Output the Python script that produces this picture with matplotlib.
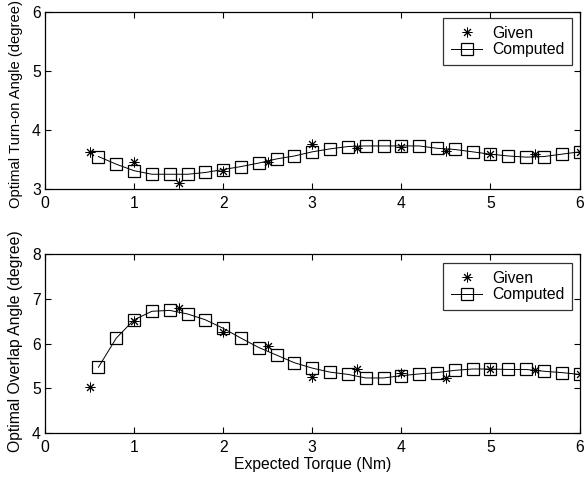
import numpy as np
import matplotlib
matplotlib.use("Agg")
import matplotlib.pyplot as plt

plt.rcParams['font.family'] = ['Liberation Sans', 'DejaVu Sans']

# Expected torque (Nm) for the tabulated ("given") optimum angles
given_torque = [0.5, 1.0, 1.5, 2.0, 2.5, 3.0, 3.5, 4.0, 4.5, 5.0, 5.5, 6.0]
given_turn_on = [3.62, 3.45, 3.11, 3.31, 3.46, 3.77, 3.69, 3.72, 3.65, 3.59, 3.60, 3.63]
given_overlap = [5.02, 6.50, 6.80, 6.26, 5.95, 5.25, 5.44, 5.33, 5.22, 5.44, 5.40, 5.31]

# Torque grid for the computed optimum angles
computed_torque = [0.6, 0.8, 1.0, 1.2, 1.4, 1.6, 1.8, 2.0, 2.2, 2.4, 2.6, 2.8,
                   3.0, 3.2, 3.4, 3.6, 3.8, 4.0, 4.2, 4.4, 4.6, 4.8, 5.0, 5.2,
                   5.4, 5.6, 5.8, 6.0]
computed_turn_on = [3.55, 3.42, 3.31, 3.25, 3.25, 3.25, 3.28, 3.33, 3.38, 3.44,
                    3.51, 3.56, 3.63, 3.68, 3.72, 3.73, 3.73, 3.73, 3.73, 3.69,
                    3.67, 3.63, 3.59, 3.56, 3.54, 3.55, 3.59, 3.63]
computed_overlap = [5.47, 6.12, 6.53, 6.72, 6.74, 6.66, 6.53, 6.34, 6.12, 5.91,
                    5.74, 5.57, 5.45, 5.36, 5.31, 5.23, 5.23, 5.28, 5.32, 5.35,
                    5.40, 5.43, 5.43, 5.42, 5.42, 5.38, 5.35, 5.31]

x_ticks = [0, 1, 2, 3, 4, 5, 6]
turn_on_ticks = [3, 4, 5, 6]
overlap_ticks = [4, 5, 6, 7, 8]

W, H = 584, 480
fig = plt.figure(figsize=(W / 100, H / 100), dpi=100)

FS = 11.3
asterisk = (8, 2, 0)


def axes_px(left, top, right, bottom):
    return fig.add_axes([left / W, 1 - bottom / H, (right - left) / W, (bottom - top) / H])


def style(ax, yticks, ylim, ylabel, label_y, label_fs):
    ax.set_xlim(0, 6)
    ax.set_ylim(*ylim)
    ax.set_xticks(x_ticks)
    ax.set_yticks(yticks)
    ax.tick_params(direction='in', length=4.5, width=0.8, top=True, right=True,
                   labelsize=FS, colors='black')
    ax.tick_params(axis='x', pad=5)
    ax.tick_params(axis='y', pad=3)
    for s in ax.spines.values():
        s.set_linewidth(0.9)
        s.set_color('black')
    ax.set_ylabel(ylabel, fontsize=label_fs)
    ax.yaxis.set_label_coords(-0.041, label_y)


def draw(ax, given, computed, legend_anchor):
    ax.plot(given_torque, given, linestyle='none', marker=asterisk, markersize=7,
            markeredgewidth=0.7, color='black', label='Given')
    ax.plot(computed_torque, computed, linestyle='-', linewidth=0.7, color='black',
            marker='s', markersize=9, markerfacecolor='none', markeredgewidth=0.9,
            label='Computed')
    leg = ax.legend(loc='upper right', bbox_to_anchor=legend_anchor, fontsize=FS,
                    frameon=True, fancybox=False, borderaxespad=0, borderpad=0.5,
                    handlelength=2.0, handletextpad=0.6, labelspacing=0.1)
    leg.get_frame().set_edgecolor('black')
    leg.get_frame().set_linewidth(0.9)


ax1 = axes_px(45, 12, 579.5, 189)
style(ax1, turn_on_ticks, (3, 6), 'Optimal Turn-on Angle (degree)', 0.483, 10.6)
draw(ax1, given_turn_on, computed_turn_on, ((572 - 45) / 534.5, 1 - 6 / 177))

ax2 = axes_px(45, 254, 579.5, 433)
style(ax2, overlap_ticks, (4, 8), 'Optimal Overlap Angle (degree)', 0.515, FS)
draw(ax2, given_overlap, computed_overlap, ((572 - 45) / 534.5, 1 - 9 / 179))
ax2.set_xlabel('Expected Torque (Nm)', fontsize=FS)
ax2.xaxis.set_label_coords(0.5, -0.135)

fig.savefig('out.png', dpi=100)
